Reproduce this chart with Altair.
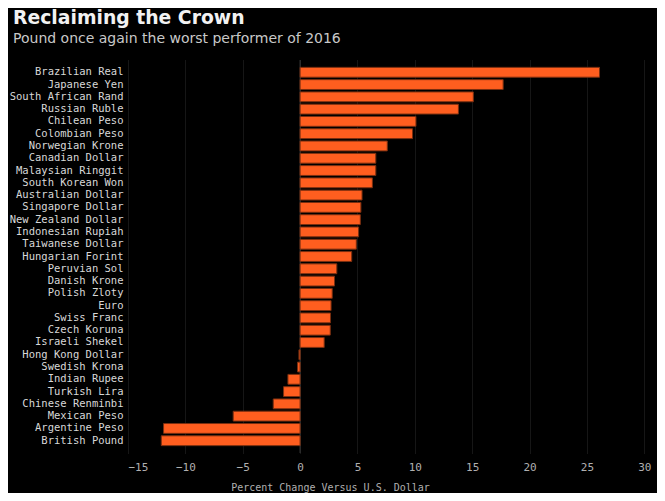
import altair as alt
import pandas as pd

currencies = [
    "Brazilian Real", "Japanese Yen", "South African Rand", "Russian Ruble",
    "Chilean Peso", "Colombian Peso", "Norwegian Krone", "Canadian Dollar",
    "Malaysian Ringgit", "South Korean Won", "Australian Dollar", "Singapore Dollar",
    "New Zealand Dollar", "Indonesian Rupiah", "Taiwanese Dollar", "Hungarian Forint",
    "Peruvian Sol", "Danish Krone", "Polish Zloty", "Euro", "Swiss Franc",
    "Czech Koruna", "Israeli Shekel", "Hong Kong Dollar", "Swedish Krona",
    "Indian Rupee", "Turkish Lira", "Chinese Renminbi", "Mexican Peso",
    "Argentine Peso", "British Pound",
]
changes = [
    26.1, 17.7, 15.1, 13.8,
    10.1, 9.8, 7.6, 6.6,
    6.6, 6.3, 5.4, 5.3,
    5.25, 5.1, 4.9, 4.5,
    3.2, 3.0, 2.8, 2.7, 2.65,
    2.63, 2.1, -0.1, -0.22,
    -1.06, -1.44, -2.34, -5.83,
    -11.9, -12.1,
]
x_ticks = [-15, -10, -5, 0, 5, 10, 15, 20, 25, 30]

df = pd.DataFrame({"currency": currencies, "change": changes})

bars = alt.Chart(df).mark_bar(
    color="#ff5e1f", stroke="#7a2f10", strokeWidth=1
).encode(
    x=alt.X(
        "change:Q",
        scale=alt.Scale(domain=[-15, 30.5], nice=False, zero=False),
        axis=alt.Axis(
            values=x_ticks,
            title="Percent Change Versus U.S. Dollar",
            titleX=202,
            titleY=29,
            titleAlign="center",
            titleFont="DejaVu Sans Mono",
            titleFontSize=10,
            titleFontWeight="normal",
            titleColor="#b0b0b0",
            labelFont="DejaVu Sans Mono",
            labelFontSize=11,
            labelColor="#b0b0b0",
            labelPadding=8,
            ticks=False,
            domain=False,
            grid=True,
            gridColor="#2c2c2c",
            gridDash=[1, 1],
            gridWidth=1,
        ),
    ),
    y=alt.Y(
        "currency:N",
        sort=None,
        scale=alt.Scale(paddingInner=0.2, paddingOuter=0.6),
        axis=alt.Axis(
            title=None,
            labelFont="DejaVu Sans Mono",
            labelFontSize=10.5,
            labelColor="#d8d8d8",
            labelPadding=5,
            ticks=False,
            domain=False,
            grid=False,
        ),
    ),
)

zero = alt.Chart(pd.DataFrame({"z": [0]})).mark_rule(
    color="#3a3a3a", strokeWidth=1
).encode(x="z:Q")

chart = alt.layer(zero, bars).properties(
    width=522,
    height=393,
    autosize=alt.AutoSizeParams(type="none"),
    padding={"left": 120, "top": 52, "right": 7, "bottom": 40},
    background="#000000",
    title=alt.TitleParams(
        text="Reclaiming the Crown",
        subtitle="Pound once again the worst performer of 2016",
        anchor="start",
        frame="group",
        dx=-115,
        offset=14,
        font="DejaVu Sans",
        fontSize=18.8,
        fontWeight="bold",
        color="#f2f2f2",
        subtitleFont="DejaVu Sans",
        subtitleFontSize=14,
        subtitleColor="#c8c8c8",
        subtitlePadding=4,
    ),
).configure_view(stroke=None)

chart.save("out.html", embed_options={"renderer": "svg", "actions": False})
